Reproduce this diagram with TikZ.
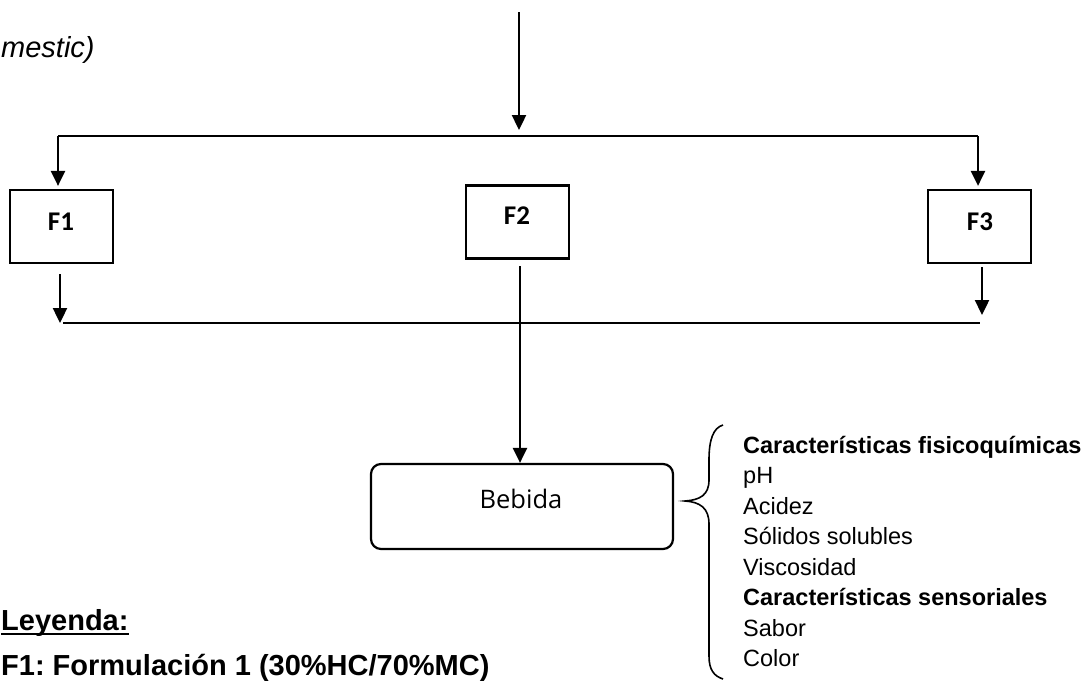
\documentclass[tikz,border=0pt]{standalone}
\usepackage{fontspec}
\setmainfont{Liberation Sans}
\newfontfamily\boxfont{Carlito}
\newfontfamily\bebfont{Open Sans}
\usetikzlibrary{arrows.meta}
\frenchspacing
\tikzset{
  ln/.style={line width=2.4pt},
  arr/.style={line width=2.4pt,-{Triangle[width=14pt,length=15pt]}},
  fbox/.style={draw,line width=2.2pt,minimum width=103pt,minimum height=73pt,inner sep=0pt},
  flabel/.style={font=\boxfont\bfseries\fontsize{27}{32}\selectfont,inner sep=0pt},
  listtxt/.style={font=\fontsize{23.5}{28}\selectfont,anchor=base west,inner sep=0pt},
  legtxt/.style={font=\bfseries\fontsize{29}{34}\selectfont,anchor=base west,inner sep=0pt}
}
\begin{document}
\begin{tikzpicture}[x=1pt,y=-1pt]
\useasboundingbox (0,0) rectangle (1092,680);
% partial caption text
\node[font=\itshape\fontsize{29}{34}\selectfont,anchor=base west,inner sep=0pt] (cap) at (1,57) {mestic)};
% boxes
\node[fbox] (f1) at (61.5,226.5) {};
\node[fbox] (f2) at (517.5,222) {};
\node[fbox] (f3) at (979.5,226.5) {};
\node[flabel] (f1t) at (61,222) {F1};
\node[flabel] (f2t) at (517,216) {F2};
\node[flabel] (f3t) at (980,222) {F3};
\node[draw,line width=2.2pt,rounded corners=10pt,minimum width=302pt,minimum height=85pt,inner sep=0pt] (beb) at (522,506.5) {};
\node[font=\bebfont\fontsize{25.5}{30}\selectfont,inner sep=0pt] (bebt) at (521,499) {Bebida};
% coordinates of junctions
\coordinate (src) at (519,12);
\coordinate (tm) at (519,130);
\coordinate (tl) at (58,136);
\coordinate (tr) at (978,136);
\coordinate (bl) at (60,323);
\coordinate (br) at (982,323);
\coordinate (m2) at (520,266);
% connectors
\draw[arr] (src) -- (tm);
\draw[ln] (tl) -- (tr);
\draw[arr] (tl) -- ([yshift=3pt]tl |- f1.north);
\draw[arr] (tr) -- ([yshift=3pt]tr |- f3.north);
\draw[arr] ([yshift=-10pt]bl |- f1.south) -- (bl);
\draw[ln] ([xshift=3pt]bl) -- ([xshift=-2pt]br);
\draw[arr] ([yshift=-3pt]br |- f3.south) -- ([yshift=8pt]br);
\draw[arr] (m2) -- (m2 |- beb.north);
% brace
\draw[line width=1.6pt] (723,425) .. controls (713,428) and (709,440) .. (709,460)
  -- (709,480) .. controls (709,495) and (700,500) .. (685,501)
  .. controls (700,502) and (709,508) .. (709,524)
  -- (709,656) .. controls (709,670) and (714,676) .. (723,679);
% list
\node[listtxt,font=\bfseries\fontsize{23.5}{28}\selectfont] (l1) at (743,453) {Características fisicoquímicas};
\node[listtxt] (l2) at (743,483.5) {pH};
\node[listtxt] (l3) at (743,514) {Acidez};
\node[listtxt] (l4) at (743,544.5) {Sólidos solubles};
\node[listtxt] (l5) at (743,575) {Viscosidad};
\node[listtxt,font=\bfseries\fontsize{23.5}{28}\selectfont] (l6) at (743,605.5) {Características sensoriales};
\node[listtxt] (l7) at (743,636) {Sabor};
\node[listtxt] (l8) at (743,666.5) {Color};
% legend
\node[legtxt] (ley) at (1,630) {Leyenda:};
\draw[line width=2.5pt] ([yshift=-4pt]ley.base west) -- ([yshift=-4pt]ley.base east);
\node[legtxt] (leg1) at (1,675) {F1: Formulación 1 (30\%HC/70\%MC)};
\end{tikzpicture}
\end{document}
